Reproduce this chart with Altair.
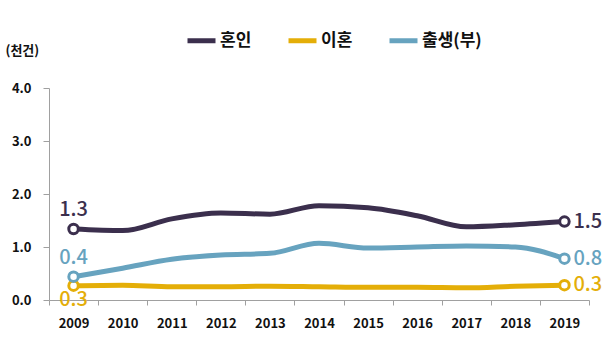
import altair as alt
import pandas as pd

# Annual counts (thousand cases), 2009-2019
years = ["2009", "2010", "2011", "2012", "2013", "2014", "2015", "2016", "2017", "2018", "2019"]
marriage = [1.34, 1.31, 1.53, 1.64, 1.62, 1.78, 1.74, 1.59, 1.38, 1.42, 1.48]
divorce = [0.27, 0.28, 0.25, 0.25, 0.26, 0.25, 0.24, 0.24, 0.23, 0.26, 0.28]
births = [0.44, 0.60, 0.77, 0.85, 0.88, 1.07, 0.98, 1.00, 1.02, 1.00, 0.78]

series_names = ["혼인", "이혼", "출생(부)"]
series_colors = ["#3b2f4d", "#e4ae08", "#67a3bf"]
series_values = [marriage, divorce, births]

FONT = "Noto Sans CJK KR"

rows = []
for name, vals in zip(series_names, series_values):
    for y, v in zip(years, vals):
        rows.append({"year": y, "series": name, "value": v})
df = pd.DataFrame(rows)

x_enc = alt.X(
    "year:O",
    bandPosition=0.5,
    scale=alt.Scale(type="band", domain=years, paddingInner=0, paddingOuter=0),
    axis=alt.Axis(
        title=None, labelAngle=0, tickBand="extent", labelFontSize=13,
        labelFontWeight="bold", labelColor="#111", labelPadding=12,
        domainColor="#a0a0a0", tickColor="#a0a0a0", tickSize=5, grid=False,
    ),
)
y_enc = alt.Y(
    "value:Q",
    scale=alt.Scale(domain=[0, 4]),
    axis=alt.Axis(
        values=[0, 1, 2, 3, 4], format=".1f", title="(천건)", titleAngle=0,
        titleX=-44, titleY=-38, titleAlign="left", titleBaseline="middle",
        titleFontSize=13, titleFontWeight="bold", titleColor="#111", titleFont=FONT,
        labelFontSize=13, labelFontWeight="bold", labelColor="#111", labelPadding=12,
        domainColor="#a0a0a0", tickColor="#a0a0a0", tickSize=6, grid=False,
    ),
)
color_enc = alt.Color(
    "series:N",
    scale=alt.Scale(domain=series_names, range=series_colors),
    legend=alt.Legend(
        title=None, orient="none", legendX=136, legendY=-64, direction="horizontal",
        symbolType="stroke", symbolStrokeWidth=5, symbolSize=784,
        labelFontSize=17, labelFontWeight="bold", labelColor="#111", labelFont=FONT,
        columnPadding=26, symbolOffset=0, labelOffset=2,
    ),
)

base = alt.Chart(df).encode(x=x_enc, y=y_enc, color=color_enc)

lines = base.mark_line(strokeWidth=5, interpolate="monotone", strokeCap="round")

ends = base.transform_filter(
    alt.FieldOneOfPredicate(field="year", oneOf=[years[0], years[-1]])
).mark_point(filled=True, fill="white", size=90, strokeWidth=3, opacity=1).encode(
    stroke=alt.Stroke("series:N", scale=alt.Scale(domain=series_names, range=series_colors), legend=None),
    fill=alt.value("white"),
)

label_style = dict(fontSize=20, font=FONT, fontWeight=500)

start_above = base.transform_filter(
    (alt.datum.year == years[0]) & (alt.datum.series != "이혼")
).mark_text(dy=-19, align="center", **label_style).encode(text=alt.Text("value:Q", format=".1f"))

start_below = base.transform_filter(
    (alt.datum.year == years[0]) & (alt.datum.series == "이혼")
).mark_text(dy=14, align="center", **label_style).encode(text=alt.Text("value:Q", format=".1f"))

end_right = base.transform_filter(
    alt.datum.year == years[-1]
).mark_text(dx=9, align="left", baseline="middle", **label_style).encode(text=alt.Text("value:Q", format=".1f"))

chart = (
    alt.layer(lines, ends, start_above, start_below, end_right)
    .properties(
        width=540, height=212,
        autosize=alt.AutoSizeParams(type="none"),
        padding={"left": 49, "top": 88, "right": 25, "bottom": 37},
    )
    .configure(font=FONT)
    .configure_view(stroke=None)
    .configure_axis(labelFont=FONT)
)

chart.save("out.html", embed_options={"renderer": "svg", "actions": False})
